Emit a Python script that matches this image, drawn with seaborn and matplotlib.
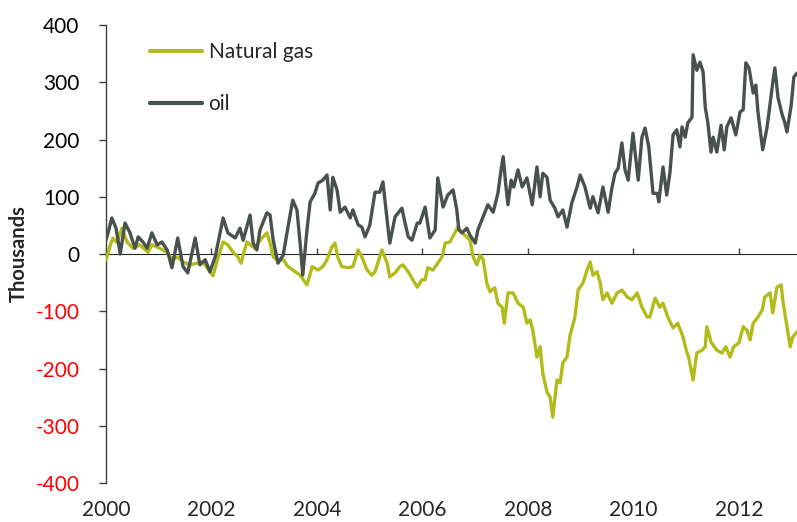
import matplotlib
matplotlib.use("Agg")
import matplotlib.pyplot as plt
import seaborn as sns
import numpy as np

# ---- data (thousands of contracts) ----
gas_years = [2000.00, 2000.08, 2000.13, 2000.21, 2000.30, 2000.40, 2000.51, 2000.64, 2000.80, 2000.87,
             2001.02, 2001.16, 2001.27, 2001.36, 2001.46, 2001.59, 2001.73, 2001.84, 2001.97, 2002.03,
             2002.10, 2002.22, 2002.31, 2002.41, 2002.50, 2002.56, 2002.67, 2002.82, 2002.92, 2003.05,
             2003.11, 2003.17, 2003.24, 2003.36, 2003.45, 2003.54, 2003.68, 2003.81, 2003.91, 2004.02,
             2004.11, 2004.19, 2004.28, 2004.34, 2004.40, 2004.47, 2004.59, 2004.68, 2004.78, 2004.85,
             2004.95, 2005.04, 2005.10, 2005.23, 2005.33, 2005.38, 2005.48, 2005.57, 2005.63, 2005.73,
             2005.80, 2005.90, 2005.99, 2006.05, 2006.10, 2006.20, 2006.29, 2006.37, 2006.43, 2006.52,
             2006.62, 2006.67, 2006.75, 2006.84, 2006.90, 2006.96, 2007.03, 2007.09, 2007.15, 2007.22,
             2007.28, 2007.37, 2007.43, 2007.51, 2007.55, 2007.62, 2007.72, 2007.81, 2007.91, 2007.98,
             2008.04, 2008.09, 2008.17, 2008.23, 2008.28, 2008.36, 2008.42, 2008.47, 2008.55, 2008.61,
             2008.66, 2008.74, 2008.80, 2008.89, 2008.95, 2009.04, 2009.12, 2009.18, 2009.23, 2009.31,
             2009.37, 2009.42, 2009.50, 2009.59, 2009.69, 2009.78, 2009.88, 2009.97, 2010.07, 2010.16,
             2010.26, 2010.31, 2010.41, 2010.50, 2010.56, 2010.65, 2010.75, 2010.84, 2010.94, 2011.01,
             2011.05, 2011.13, 2011.20, 2011.30, 2011.36, 2011.39, 2011.47, 2011.58, 2011.68, 2011.75,
             2011.83, 2011.90, 2012.00, 2012.08, 2012.15, 2012.21, 2012.27, 2012.36, 2012.44, 2012.49,
             2012.59, 2012.64, 2012.72, 2012.80, 2012.83, 2012.91, 2012.97, 2013.02, 2013.10]
gas_values = [-10, 15, 28, 20, 45, 21, 10, 16, 3, 16,
              10, 3, -10, -5, -14, -19, -16, -14, -31, -38,
              -14, 21, 16, 3, -5, -16, 21, 10, 24, 37,
              19, -5, -10, -10, -22, -28, -37, -54, -22, -28,
              -22, -10, 12, 19, -7, -22, -24, -22, 7, -5,
              -28, -37, -31, 7, -16, -40, -33, -22, -19, -31,
              -42, -58, -45, -45, -24, -28, -16, -5, 19, 21,
              38, 47, 37, 30, 24, -5, -19, -2, -10, -51,
              -66, -59, -86, -93, -121, -68, -68, -86, -93, -121,
              -115, -133, -180, -162, -208, -241, -250, -285, -220, -225,
              -190, -180, -141, -110, -63, -51, -28, -14, -37, -31,
              -51, -80, -68, -86, -68, -63, -75, -80, -68, -93,
              -110, -110, -77, -93, -86, -110, -129, -121, -145, -171,
              -182, -220, -173, -168, -162, -127, -154, -168, -173, -162,
              -180, -162, -155, -127, -133, -150, -121, -110, -98, -75,
              -68, -103, -58, -54, -80, -127, -162, -145, -136]

oil_years = [2000.00, 2000.04, 2000.11, 2000.19, 2000.27, 2000.36, 2000.45, 2000.55, 2000.61, 2000.70,
             2000.78, 2000.87, 2000.97, 2001.06, 2001.16, 2001.25, 2001.36, 2001.46, 2001.55, 2001.69,
             2001.78, 2001.88, 2001.97, 2002.07, 2002.22, 2002.31, 2002.45, 2002.54, 2002.60, 2002.73,
             2002.79, 2002.86, 2002.92, 2003.05, 2003.11, 2003.17, 2003.26, 2003.36, 2003.45, 2003.54,
             2003.62, 2003.68, 2003.73, 2003.81, 2003.87, 2003.96, 2004.02, 2004.11, 2004.19, 2004.25,
             2004.30, 2004.38, 2004.44, 2004.53, 2004.63, 2004.68, 2004.78, 2004.85, 2004.91, 2005.00,
             2005.10, 2005.19, 2005.25, 2005.33, 2005.38, 2005.48, 2005.61, 2005.67, 2005.73, 2005.80,
             2005.90, 2005.95, 2006.05, 2006.14, 2006.24, 2006.29, 2006.39, 2006.48, 2006.58, 2006.65,
             2006.69, 2006.75, 2006.84, 2006.90, 2007.00, 2007.05, 2007.15, 2007.24, 2007.34, 2007.43,
             2007.49, 2007.53, 2007.58, 2007.62, 2007.68, 2007.73, 2007.81, 2007.89, 2007.98, 2008.08,
             2008.17, 2008.23, 2008.28, 2008.36, 2008.42, 2008.51, 2008.57, 2008.66, 2008.74, 2008.83,
             2008.93, 2008.99, 2009.08, 2009.18, 2009.23, 2009.33, 2009.42, 2009.52, 2009.59, 2009.65,
             2009.71, 2009.78, 2009.84, 2009.90, 2009.99, 2010.09, 2010.16, 2010.22, 2010.29, 2010.37,
             2010.45, 2010.48, 2010.56, 2010.63, 2010.69, 2010.75, 2010.82, 2010.88, 2010.92, 2010.98,
             2011.03, 2011.11, 2011.13, 2011.20, 2011.26, 2011.32, 2011.36, 2011.41, 2011.47, 2011.51,
             2011.58, 2011.66, 2011.72, 2011.77, 2011.85, 2011.94, 2012.02, 2012.08, 2012.13, 2012.19,
             2012.27, 2012.32, 2012.36, 2012.45, 2012.53, 2012.57, 2012.64, 2012.68, 2012.74, 2012.82,
             2012.87, 2012.91, 2012.99, 2013.04, 2013.10]
oil_values = [25, 37, 63, 45, 0, 54, 38, 10, 30, 21,
              10, 37, 16, 21, 7, -24, 28, -22, -33, 28,
              -19, -10, -31, -5, 63, 37, 28, 45, 24, 68,
              19, 7, 42, 72, 68, 24, -16, -2, 47, 94,
              77, 19, -37, 42, 91, 106, 124, 129, 138, 77,
              134, 112, 73, 82, 63, 77, 51, 47, 30, 50,
              108, 108, 126, 59, 19, 65, 80, 54, 30, 24,
              54, 54, 82, 28, 42, 133, 82, 103, 112, 77,
              42, 37, 45, 33, 19, 42, 65, 86, 73, 106,
              147, 170, 120, 86, 129, 117, 147, 117, 133, 86,
              152, 100, 141, 134, 94, 80, 65, 77, 47, 89,
              117, 138, 117, 80, 100, 72, 117, 73, 115, 141,
              150, 194, 147, 129, 211, 129, 204, 220, 187, 106,
              106, 91, 152, 103, 141, 208, 217, 187, 222, 204,
              229, 239, 348, 321, 335, 318, 257, 229, 178, 204,
              178, 225, 182, 222, 238, 208, 248, 252, 334, 325,
              281, 295, 248, 182, 220, 248, 299, 325, 273, 243,
              229, 213, 260, 309, 316]

series_names = ["Natural gas", "oil"]
series_colors = ["#b3bb1b", "#48514c"]
x_ticks = [2000, 2002, 2004, 2006, 2008, 2010, 2012]
y_ticks = [-400, -300, -200, -100, 0, 100, 200, 300, 400]

# ---- style ----
sns.set_style("white")
plt.rcParams["font.family"] = ["Lato", "DejaVu Sans"]

fig = plt.figure(figsize=(7.97, 5.22), dpi=100)
ax = fig.add_axes([0.133, 0.0747, 0.867, 0.8774])

sns.lineplot(x=gas_years, y=gas_values, ax=ax, color=series_colors[0],
             linewidth=2.4, label=series_names[0], zorder=3)
sns.lineplot(x=oil_years, y=oil_values, ax=ax, color=series_colors[1],
             linewidth=2.4, label=series_names[1], zorder=4)

ax.set_xlim(2000, 2013.10)
ax.set_ylim(-400, 400)
ax.set_yticks(y_ticks)
ax.set_yticklabels([str(v) for v in y_ticks])
ax.set_xticks(x_ticks)
ax.set_xticklabels([str(v) for v in x_ticks])

for s in ["top", "right", "bottom"]:
    ax.spines[s].set_visible(False)
ax.spines["left"].set_color("#404040")
ax.spines["left"].set_linewidth(1.0)

ax.tick_params(axis="y", direction="out", length=5, width=1, color="#404040",
               pad=14, labelsize=15, left=True)
ax.tick_params(axis="x", length=0, pad=12, labelsize=15, bottom=True)

for lbl, v in zip(ax.get_yticklabels(), y_ticks):
    lbl.set_color("#ff0000" if v < 0 else "black")

# horizontal axis at zero with ticks (no labels)
sec = ax.secondary_xaxis(0.5)
sec.set_xticks(x_ticks, labels=[""] * len(x_ticks))
sec.tick_params(axis="x", direction="out", length=4, width=1, color="#404040")
sec.spines["bottom"].set_color("#666666")
sec.spines["bottom"].set_linewidth(1.3)
sec.spines["bottom"].set_zorder(1)

ax.set_xlabel("")
ax.set_ylabel("Thousands", fontsize=14.5, fontweight="bold")
ax.yaxis.set_label_coords(-0.112, 0.5)

leg = ax.legend(loc="upper left", bbox_to_anchor=(0.064, 0.963), frameon=False,
                fontsize=15, handlelength=2.5, handletextpad=0.3,
                labelspacing=1.55, borderpad=0, borderaxespad=0)
for h in leg.get_lines():
    h.set_linewidth(3)

fig.savefig("out.png", dpi=100)
